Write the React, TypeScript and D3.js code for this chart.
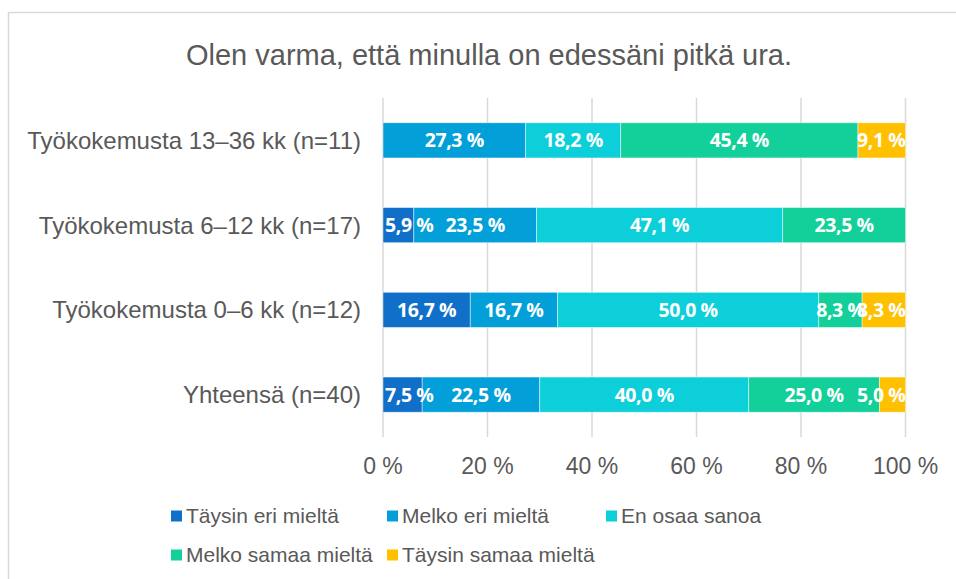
import * as d3 from 'd3';
import { useEffect, useRef } from 'react';

const title = 'Olen varma, että minulla on edessäni pitkä ura.';
const categories = [
  'Työkokemusta 13–36 kk (n=11)',
  'Työkokemusta 6–12 kk (n=17)',
  'Työkokemusta 0–6 kk (n=12)',
  'Yhteensä (n=40)',
];
const seriesNames = [
  'Täysin eri mieltä',
  'Melko eri mieltä',
  'En osaa sanoa',
  'Melko samaa mieltä',
  'Täysin samaa mieltä',
];
// one array per series, in category order
const taysinEri = [0, 5.9, 16.7, 7.5];
const melkoEri = [27.3, 23.5, 16.7, 22.5];
const enOsaa = [18.2, 47.1, 50.0, 40.0];
const melkoSamaa = [45.4, 23.5, 8.3, 25.0];
const taysinSamaa = [9.1, 0, 8.3, 5.0];
const xTicks = [0, 20, 40, 60, 80, 100];

const colors = ['#1070c9', '#029fd9', '#0dcfda', '#13d09a', '#ffc000'];
const W = 956;
const H = 579;
const margins = { top: 98, left: 383, right: 50, bottom: 142 };
const textColor = '#595959';
const font = '"Liberation Sans", Arial, sans-serif';

export default function App() {
  const ref = useRef<SVGSVGElement>(null);

  useEffect(() => {
    const svg = d3.select(ref.current);
    svg.selectAll('*').remove();

    const series = [taysinEri, melkoEri, enOsaa, melkoSamaa, taysinSamaa];
    const rows = categories.map((c, i) => {
      const row: any = { cat: c };
      seriesNames.forEach((s, j) => (row[s] = series[j][i]));
      return row;
    });
    const stacked = d3.stack<any>().keys(seriesNames)(rows);

    const x = d3.scaleLinear().domain([0, 100]).range([margins.left, 905.5]);
    const y = d3
      .scaleBand()
      .domain(categories)
      .range([margins.top, H - margins.bottom])
      .paddingInner(0.585)
      .paddingOuter(0.2925);

    // chart border (right and bottom edges fall outside the picture)
    svg
      .append('rect')
      .attr('x', 8.5)
      .attr('y', 12.5)
      .attr('width', 1200)
      .attr('height', 1200)
      .attr('fill', 'white')
      .attr('stroke', '#d9d9d9')
      .attr('stroke-width', 1.5);

    svg
      .append('text')
      .attr('x', 489)
      .attr('y', 55)
      .attr('dy', '0.35em')
      .attr('text-anchor', 'middle')
      .attr('font-family', font)
      .attr('font-size', 29)
      .attr('fill', textColor)
      .text(title);

    // gridlines
    svg
      .append('g')
      .selectAll('line')
      .data(xTicks)
      .join('line')
      .attr('x1', (d) => x(d))
      .attr('x2', (d) => x(d))
      .attr('y1', margins.top)
      .attr('y2', H - margins.bottom)
      .attr('stroke', '#d9d9d9')
      .attr('stroke-width', 1.5);

    // tick labels
    svg
      .append('g')
      .selectAll('text')
      .data(xTicks)
      .join('text')
      .attr('x', (d) => x(d))
      .attr('y', 466)
      .attr('dy', '0.35em')
      .attr('text-anchor', 'middle')
      .attr('font-family', font)
      .attr('font-size', 23)
      .attr('fill', textColor)
      .text((d) => `${d} %`);

    // category labels
    svg
      .append('g')
      .selectAll('text')
      .data(categories)
      .join('text')
      .attr('x', 361)
      .attr('y', (d) => y(d)! + y.bandwidth() / 2)
      .attr('dy', '0.35em')
      .attr('text-anchor', 'end')
      .attr('font-family', font)
      .attr('font-size', 24)
      .attr('fill', textColor)
      .text((d) => d);

    svg
      .append('g')
      .selectAll('g')
      .data(stacked)
      .join('g')
      .attr('fill', (_d, i) => colors[i])
      .selectAll('rect')
      .data((d) => d)
      .join('rect')
      .attr('x', (d) => x(d[0]))
      .attr('y', (d) => y(d.data.cat)!)
      .attr('width', (d) => x(d[1]) - x(d[0]))
      .attr('height', y.bandwidth())
      .attr('stroke', 'white')
      .attr('stroke-opacity', 0.6)
      .attr('stroke-width', 0.75);

    // value labels on top of all bars, kept inside the 0–100 % extent
    const labels = svg
      .append('g')
      .selectAll('g')
      .data(stacked)
      .join('g')
      .selectAll('text')
      .data((d) => d.filter((p) => p[1] - p[0] > 0))
      .join('text')
      .attr('y', (d) => y(d.data.cat)! + y.bandwidth() / 2)
      .attr('dy', '0.36em')
      .attr('text-anchor', 'middle')
      .attr('font-family', '"Open Sans", sans-serif')
      .attr('font-weight', 'bold')
      .attr('font-size', 19.5)
      .attr('letter-spacing', -0.4)
      .attr('fill', 'white')
      .text((d) => `${(d[1] - d[0]).toFixed(1).replace('.', ',')} %`);

    labels.attr('x', function (d) {
      const half = (this as SVGTextElement).getComputedTextLength() / 2;
      const mid = (x(d[0]) + x(d[1])) / 2;
      return Math.min(Math.max(mid, x(0) + half + 2), x(100) - half);
    });

    // legend
    const legendPos = [
      [171, 516],
      [387, 516],
      [606, 516],
      [171, 555],
      [387, 555],
    ];
    const legend = svg
      .append('g')
      .selectAll('g')
      .data(seriesNames)
      .join('g')
      .attr('transform', (_d, i) => `translate(${legendPos[i][0]},${legendPos[i][1]})`);
    legend
      .append('rect')
      .attr('x', 0)
      .attr('y', -5.5)
      .attr('width', 11)
      .attr('height', 11)
      .attr('fill', (_d, i) => colors[i]);
    legend
      .append('text')
      .attr('x', 15)
      .attr('dy', '0.35em')
      .attr('font-family', font)
      .attr('font-size', 21)
      .attr('fill', textColor)
      .text((d) => d);
  }, []);

  return (
    <svg
      ref={ref}
      width={W}
      height={H}
      style={{ position: 'absolute', left: 0, top: 0, display: 'block' }}
    />
  );
}
